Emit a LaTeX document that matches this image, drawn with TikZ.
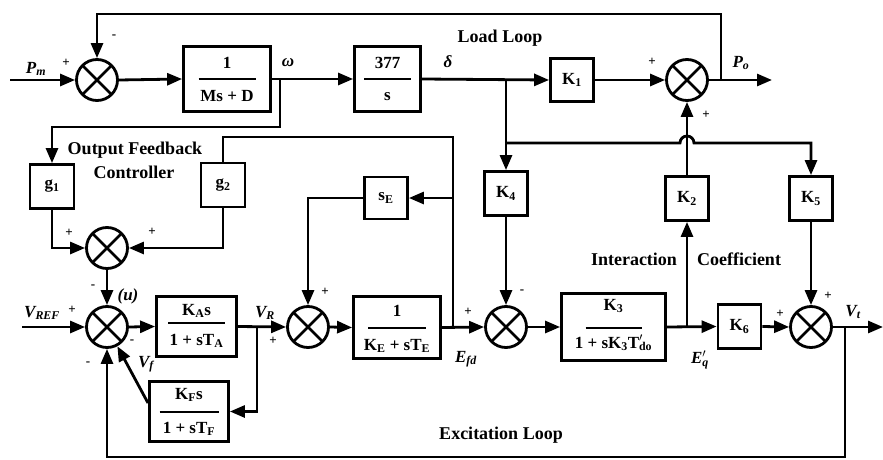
\documentclass[tikz,border=0pt]{standalone}
\usepackage{fontspec}
\setmainfont{Liberation Serif}
\usetikzlibrary{arrows.meta,calc}
\begin{document}
\begin{tikzpicture}[x=1pt,y=-1pt,
 ln/.style={line width=2.8pt},
 arr/.style={line width=2.8pt,-{Triangle[length=15pt,width=12pt]}},
 sumj/.style={circle,draw,line width=2.8pt,minimum size=41pt,inner sep=0pt,
   path picture={\draw[line width=2.6pt] (path picture bounding box.south west) -- (path picture bounding box.north east)
     (path picture bounding box.north west) -- (path picture bounding box.south east);}},
 blk/.style={draw,line width=2.8pt,inner sep=0pt,font=\fontsize{17}{19}\selectfont\bfseries},
 txt/.style={inner sep=0pt,font=\fontsize{17}{19}\selectfont\bfseries},
 lbl/.style={inner sep=0pt,font=\fontsize{18}{20}\selectfont\bfseries},
 itl/.style={inner sep=0pt,font=\fontsize{17}{19}\selectfont\bfseries\itshape},
 sg/.style={inner sep=0pt,font=\fontsize{13}{15}\selectfont\bfseries},
 frl/.style={line width=2.8pt}
]
\useasboundingbox[fill=white] (0,0) rectangle (883,460);

% summing junctions
\node[sumj] (s1) at (97,80) {};
\node[sumj] (s2) at (687,80) {};
\node[sumj] (s3) at (107,248) {};
\node[sumj] (s4) at (107,327) {};
\node[sumj] (s5) at (308,327) {};
\node[sumj] (s6) at (506,327) {};
\node[sumj] (s7) at (811,327) {};

% simple boxes
\node[blk,minimum width=43pt,minimum height=43pt] (K1) at (572,80) {K\textsubscript{1}};
\node[blk,minimum width=43pt,minimum height=44pt] (K4) at (506,193.5) {K\textsubscript{4}};
\node[blk,minimum width=43pt,minimum height=44pt] (K2) at (687,198.5) {K\textsubscript{2}};
\node[blk,minimum width=43pt,minimum height=44pt] (K5) at (811,198.5) {K\textsubscript{5}};
\node[blk,minimum width=43pt,minimum height=44pt] (K6) at (739.5,326.5) {K\textsubscript{6}};
\node[blk,minimum width=44pt,minimum height=44pt] (g1) at (52,186.5) {g\textsubscript{1}};
\node[blk,minimum width=44pt,minimum height=44pt] (g2) at (223,185) {g\textsubscript{2}};
\node[blk,minimum width=43pt,minimum height=42pt] (sE) at (386,198) {s\textsubscript{E}};

% fraction boxes
\node[blk,minimum width=87pt,minimum height=65pt] (bM) at (227,79) {};
\node[txt] at (227,63) {1};
\node[txt] at (227,96) {Ms + D};
\draw[frl] ($(bM.center)+(-28.5,0)$) -- ++(57,0);

\node[blk,minimum width=66pt,minimum height=65pt] (b377) at (387.5,79) {};
\node[txt] at (387.5,63) {377};
\node[txt] at (387.5,97) {s};
\draw[frl] ($(b377.center)+(-23.5,0)$) -- ++(47,0);

\node[blk,minimum width=80pt,minimum height=60pt] (KA) at (196.5,326.5) {};
\node[txt] at (196.5,311) {K\textsubscript{A}s};
\node[txt] at (196.5,341) {1 + sT\textsubscript{A}};
\draw[frl] ($(KA.center)+(-28.5,-3.5)$) -- ++(57,0);

\node[blk,minimum width=79pt,minimum height=60pt] (KF) at (189,411.5) {};
\node[txt] at (189,395) {K\textsubscript{F}s};
\node[txt] at (189,429) {1 + sT\textsubscript{F}};
\draw[frl] ($(KF.center)+(-29.5,0.5)$) -- ++(59,0);

\node[blk,minimum width=87pt,minimum height=62pt] (KE) at (397,327.5) {};
\node[txt] at (397,311) {1};
\node[txt] at (397,346) {K\textsubscript{E} + sT\textsubscript{E}};
\draw[frl] ($(KE.center)+(-29,0.5)$) -- ++(58,0);

\node[blk,minimum width=104pt,minimum height=67pt] (K3) at (613.5,327) {};
\node[txt] at (613.5,306) {K\textsubscript{3}};
\node[txt] at (613.5,343) {1 + sK\textsubscript{3}T\rlap{\textsuperscript{$\prime$}}\textsubscript{do}};
\draw[frl] ($(K3.center)+(-28,1)$) -- ++(56,0);

% coordinates
\coordinate (pin) at (10,80);
\coordinate (wb) at (280,80);
\coordinate (wd) at (280,127);
\coordinate (db) at (506,80);
\coordinate (jk) at (506,143);
\coordinate (hopL) at (680,143);
\coordinate (pob) at (721,80);
\coordinate (ptop) at (721,14);
\coordinate (pout) at (772,80);
\coordinate (vref) at (22,327);
\coordinate (vrb) at (257,327);
\coordinate (vrd) at (257,411.5);
\coordinate (kfs) at (148,403);
\coordinate (efb) at (453,327);
\coordinate (eft) at (453,137);
\coordinate (efs) at (453,198);
\coordinate (seb) at (308,198);
\coordinate (eqb) at (687,327);
\coordinate (vtb) at (845,327);
\coordinate (vbot) at (845,457);
\coordinate (vout) at (883,327);

% load loop
\draw[arr] (pin) -- (s1.west);
\draw[arr] (s1.east) -- (bM.west);
\draw[arr] (bM.east) -- (b377.west);
\draw[arr] (wb) -- (wd) -| (g1.north);
\draw[arr] (b377.east) -- (K1.west);
\draw[arr] (K1.east) -- (s2.west);
\draw[arr] (s2.east) -- (pout);
\draw[arr] (pob) -- (ptop) -| (s1.north);
\draw[arr] (db) -- (K4.north);
\draw[arr] (jk) -- (hopL) arc[start angle=180,end angle=360,radius=7] -| (K5.north);
\draw[arr] (K2.north) -- (s2.south);
\draw[arr] (K4.south) -- (s6.north);

% output feedback controller
\draw[arr] (g1.south) |- (s3.west);
\draw[arr] (g2.south) |- (s3.east);
\draw[arr] (s3.south) -- (s4.north);

% excitation loop
\draw[arr] (vref) -- (s4.west);
\draw[arr] (s4.east) -- (KA.west);
\draw[arr] (KA.east) -- (s5.west);
\draw[arr] (vrb) -- (vrd) -- (KF.east);
\draw[arr] (kfs) -- (s4);
\draw[arr] (s5.east) -- (KE.west);
\draw[arr] (KE.east) -- (s6.west);
\draw[ln] (efb) -- (eft) -| (g2.north);
\draw[arr] (efs) -- (sE.east);
\draw[arr] (sE.west) -- (seb) -- (s5.north);
\draw[arr] (s6.east) -- (K3.west);
\draw[arr] (K3.east) -- (K6.west);
\draw[arr] (eqb) -- (K2.south);
\draw[arr] (K6.east) -- (s7.west);
\draw[arr] (K5.south) -- (s7.north);
\draw[arr] (s7.east) -- (vout);
\draw[arr] (vtb) -- (vbot) -| (s4.south);

% labels
\node[itl] at (36,69) {P\textsubscript{m}};
\node[sg] at (66,63) {+};
\node[sg] at (114,37) {-};
\node[itl] at (288,63) {ω};
\node[itl] at (448,62) {δ};
\node[lbl] at (500,38) {Load Loop};
\node[sg] at (652,62) {+};
\node[sg] at (706,115) {+};
\node[itl] at (741,63) {P\textsubscript{o}};
\node[lbl] at (135,150) {Output Feedback};
\node[lbl] at (134,172) {Controller};
\node[sg] at (69,233) {+};
\node[sg] at (152,232) {+};
\node[sg] at (93,287) {-};
\node[itl] at (128,296) {(u)};
\node[sg] at (72,310) {+};
\node[itl] at (42,313) {V\textsubscript{REF}};
\node[sg] at (132,342) {-};
\node[itl] at (146,364) {V\textsubscript{f}};
\node[sg] at (88,364) {-};
\node[itl] at (265,313) {V\textsubscript{R}};
\node[sg] at (273,341) {+};
\node[sg] at (325,292) {+};
\node[itl] at (466,359) {E\textsubscript{fd}};
\node[sg] at (468,312) {+};
\node[sg] at (522,292) {-};
\node[lbl] at (634,259) {Interaction};
\node[lbl] at (739,259) {Coefficient};
\node[itl] at (700,360) {E\rlap{\textsuperscript{$\prime$}}\textsubscript{q}};
\node[sg] at (780,314) {+};
\node[sg] at (828,296) {+};
\node[itl] at (853,312) {V\textsubscript{t}};
\node[lbl] at (501,435) {Excitation Loop};
\end{tikzpicture}
\end{document}
